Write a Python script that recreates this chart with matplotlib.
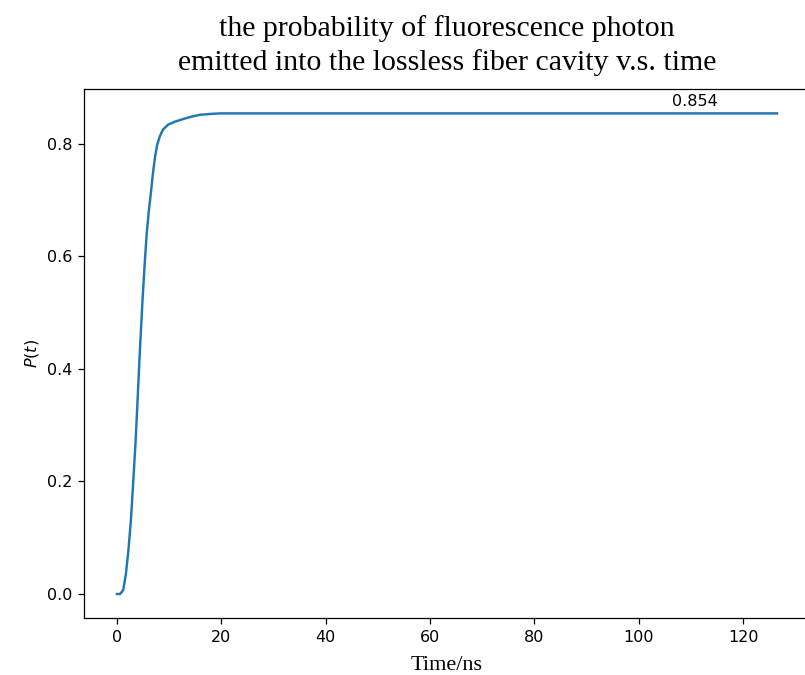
import matplotlib
matplotlib.use('Agg')
from matplotlib import pyplot as plt

# values
time_ns = [0.0, 0.6, 1.2, 1.7, 2.2, 2.7, 3.1, 3.5, 3.8, 4.1, 4.4, 4.9, 5.3, 5.7,
           6.1, 6.5, 6.9, 7.3, 7.7, 8.2, 8.8, 9.8, 11.0, 12.7, 14.2, 15.9,
           17.8, 19.7, 25.0, 40.0, 60.0, 80.0, 100.0, 126.5]
prob = [0.0, 0.0, 0.007, 0.035, 0.078, 0.135, 0.197, 0.26, 0.315, 0.375,
        0.434, 0.523, 0.585, 0.641, 0.68, 0.713, 0.748, 0.777, 0.798, 0.813,
        0.825, 0.834, 0.839, 0.844, 0.848, 0.8515, 0.853, 0.854, 0.854,
        0.854, 0.854, 0.854, 0.854, 0.854]
final_value = 0.854

# the reference looks like a default figure scaled up by ~1.15
plt.rcParams['font.size'] = 11.5
plt.rcParams['axes.linewidth'] = 0.9
plt.rcParams['lines.linewidth'] = 1.75
for a in ('xtick', 'ytick'):
    plt.rcParams[a + '.major.size'] = 4
    plt.rcParams[a + '.major.width'] = 0.9
    plt.rcParams[a + '.major.pad'] = 4.5

fig = plt.figure(figsize=(8.05, 6.75), dpi=100)
ax = fig.add_axes([0.1043, 0.0844, 0.902, 0.7832])

ax.plot(time_ns, prob)
ax.text(110.7, 0.875, '{:.3f}'.format(final_value), ha='center', va='center')

ax.set_title('the probability of fluorescence photon\nemitted into the lossless fiber cavity v.s. time',
             family='Liberation Serif', fontsize=21.5, pad=14, linespacing=1.35)
ax.set_xlabel('Time/ns', family='Liberation Serif', fontsize=16, labelpad=8)
ax.set_ylabel('$P(t)$', labelpad=4)

fig.savefig('out.png', dpi=100)
